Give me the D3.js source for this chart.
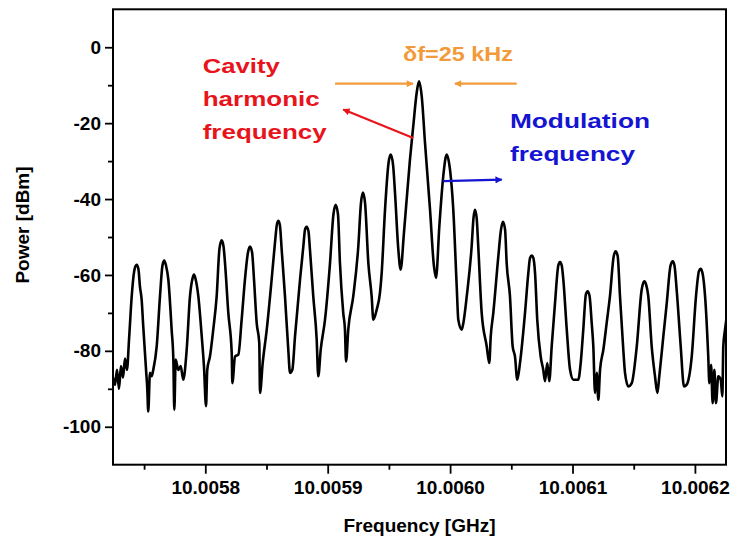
<!DOCTYPE html>
<html><head><meta charset="utf-8">
<script src="https://cdn.jsdelivr.net/npm/d3@7"></script>
<style>
html,body{margin:0;padding:0;background:#fff;}
text{font-family:"Liberation Sans",Arial,sans-serif;font-weight:bold;}
</style></head>
<body><svg id="chart" width="733" height="545"></svg>
<script>
// ---- data ----
const baseGHz = 10.0058;            // trace frequencies are kHz offsets from this
const xDomainGHz = [10.0057246, 10.0062254];
const yDomain = [-110, 10];
const xMajorTicks = [10.0058, 10.0059, 10.0060, 10.0061, 10.0062];
const xMinorTicks = [10.00575, 10.00585, 10.00595, 10.00605, 10.00615];
const yMajorTicks = [-100, -80, -60, -40, -20, 0];
const yMinorTicks = [-90, -70, -50, -30, -10];
const xTitle = "Frequency [GHz]";
const yTitle = "Power [dBm]";
// [offset kHz, power dBm]
const trace = [
[-75.4,-87],[-73.8,-89],[-72.1,-85],[-70.5,-90],[-68.9,-84],[-67.2,-87],[-65.6,-82],[-64.0,-85],[-62.3,-77],
[-60.1,-65.6],[-58.7,-60.5],[-57.4,-58],[-56.0,-57.3],[-54.6,-58.5],[-53.4,-63],[-52.0,-66.5],[-50.7,-73.5],
[-48.4,-85],[-47.4,-90],[-46.6,-96],[-45.2,-85.8],[-43.8,-86.7],[-42.5,-85],[-39.7,-78.8],[-37.0,-65.6],
[-35.0,-57.5],[-33.5,-56.2],[-32.1,-57.5],[-30.2,-61.2],[-27.5,-74.4],[-26.1,-82.3],[-25.3,-95.5],[-24.2,-82.3],
[-22.1,-85],[-20.1,-84],[-18.0,-87.6],[-15.2,-79.7],[-12.5,-65.6],[-10.5,-61],[-9.2,-59.9],[-8.0,-61],
[-5.7,-65.6],[-2.9,-76.2],[-1.1,-84],[0.6,-94.6],[1.6,-85],[3.8,-81.5],[6.5,-74.4],[9.3,-65.6],
[11.6,-53],[13.4,-50.9],[14.9,-52.5],[16.1,-56.8],[18.8,-70],[21.6,-80.6],[22.1,-88.5],[24.3,-81.5],
[27.0,-81],[29.7,-71.8],[32.4,-61.2],[34.9,-54],[36.5,-52.5],[38.2,-54],[39.8,-61.2],[42.0,-72.7],
[44.1,-77.9],[44.7,-91.1],[46.9,-83.2],[50.2,-74.4],[54.2,-61.2],[56.9,-51.6],[58.6,-46.5],[59.8,-45.7],
[61.0,-47],[62.4,-53.3],[65.1,-65.6],[67.8,-79.7],[69.2,-85.8],[71.1,-85],[73.3,-76.2],[77.4,-61.2],
[80.1,-52.5],[81.5,-48],[82.8,-47.3],[84.3,-48.5],[85.5,-53.3],[88.2,-65.6],[91.0,-77],[92.3,-86.7],
[94.3,-79.7],[97.8,-71.8],[101.9,-56.8],[104.7,-44],[106.5,-41.5],[108.4,-44],[110.0,-56.8],[112.7,-70],
[114.1,-74.4],[115.0,-82.8],[116.8,-74.4],[120.9,-65.6],[125.0,-52.5],[127.2,-41],[128.8,-38.3],[130.5,-41],
[133.2,-56.8],[135.9,-65.6],[137.3,-71.8],[140.0,-69.2],[142.7,-64.7],[144.1,-59.5],[146.8,-43],[149.7,-30.5],
[151.5,-28.3],[153.4,-31],[155.0,-38.4],[157.7,-53.3],[159.6,-58.6],[162.3,-48.9],[167.2,-29.6],[169.9,-20.8],
[172.7,-12],[174.6,-9],[176.8,-12.9],[179.5,-25.2],[183.6,-42.8],[186.8,-57.7],[188.5,-60.8],[191.2,-47.2],
[194.4,-34],[197.2,-28.3],[199.9,-32.2],[202.6,-42.8],[205.4,-63],[206.7,-71.8],[209.5,-74.4],[210.8,-72.7],
[213.6,-65.6],[217.6,-52.5],[219.1,-45],[220.3,-42.8],[221.7,-45],[223.0,-52.5],[225.8,-70],[229.9,-78.8],
[232.0,-83.2],[233.2,-76.2],[235.3,-70],[239.4,-55.1],[241.6,-48],[243.2,-46],[244.9,-48],[246.2,-56.8],
[248.9,-65.6],[251.1,-78.8],[253.0,-81.5],[254.9,-87.6],[257.1,-83.2],[261.2,-70],[263.9,-59.5],[265.3,-55.5],
[266.7,-54.9],[268.0,-55.5],[269.4,-59.5],[271.2,-71.8],[274.0,-81.5],[276.1,-85],[277.5,-88],[279.4,-83.2],
[281.0,-88],[283.0,-78.8],[285.7,-67.4],[288.4,-57.5],[289.8,-56.6],[291.2,-57.5],[292.5,-61.2],[295.3,-74.4],
[298.0,-85],[300.7,-87.6],[304.7,-87.6],[306.7,-83.2],[308.8,-74.4],[311.0,-65],[312.4,-64.3],[313.9,-65.5],
[315.7,-72.7],[317.0,-78.8],[318.4,-91.1],[319.8,-85.8],[321.1,-92.9],[322.5,-85],[325.2,-79.7],[327.9,-72.7],
[330.6,-65.6],[333.7,-55],[335.3,-53.8],[336.9,-55],[338.8,-65.6],[341.5,-79.7],[342.9,-85.8],[345.6,-89.4],
[348.4,-88.5],[352.5,-78.8],[356.5,-63.9],[358.7,-61.7],[360.1,-62.5],[361.9,-65.6],[364.7,-78.8],[367.4,-86.7],
[369.3,-91.1],[370.9,-86.7],[374.2,-76.2],[377.0,-67.4],[380.1,-57.5],[381.9,-56.4],[383.3,-57.5],[385.1,-63.9],
[388.4,-78.8],[391.1,-89.4],[393.3,-88.9],[397.4,-81.5],[400.9,-65.6],[403.3,-59],[404.7,-58.4],[406.2,-59.5],
[408.3,-65.6],[410.9,-81.5],[411.8,-88.5],[413.2,-83.7],[414.5,-93.8],[415.9,-85],[417.2,-93.8],[419.1,-86.7],
[421.1,-87.6],[422.4,-92],[423.2,-78.8],[424.6,-74.4],[426.5,-70]
];
// annotations in data space: kHz offset from baseGHz, dBm
const labels = [
  {text:"δf=25 kHz", k:161.5, db:-3.5, color:"#f39a3a", len:110},
  {text:"Cavity", k:-2.1, db:-6.7, color:"#e8141c", len:77},
  {text:"harmonic", k:-2.1, db:-15.4, color:"#e8141c", len:117},
  {text:"frequency", k:-2.1, db:-24.1, color:"#e8141c", len:124},
  {text:"Modulation", k:248.9, db:-21.4, color:"#1414d2", len:140},
  {text:"frequency", k:248.9, db:-29.9, color:"#1414d2", len:125}
];
const arrows = [
  {k0:106.0, d0:-9.6, k1:169.7, d1:-9.6, color:"#f39a3a"},
  {k0:254.4, d0:-9.6, k1:203.9, d1:-9.6, color:"#f39a3a"},
  {k0:169.9, d0:-23.9, k1:112.7, d1:-16.4, color:"#e8141c"},
  {k0:194.4, d0:-35.3, k1:242.2, d1:-34.9, color:"#1414d2"}
];

// ---- drawing ----
const W = 733, H = 545;
const m = {left:113, right:7, top:9.3, bottom:80.3};
const svg = d3.select("#chart");
const x = d3.scaleLinear().domain(xDomainGHz).range([m.left, W - m.right]);
const y = d3.scaleLinear().domain(yDomain).range([H - m.bottom, m.top]);
const fx = k => x(baseGHz + k * 1e-6);

svg.append("rect").attr("width", W).attr("height", H).attr("fill", "#fff");

const defs = svg.append("defs");
defs.append("clipPath").attr("id", "clip").append("rect")
  .attr("x", m.left).attr("y", m.top)
  .attr("width", W - m.left - m.right).attr("height", H - m.top - m.bottom);

const colors = [...new Set(arrows.map(a => a.color))];
colors.forEach((c, i) => {
  defs.append("marker").attr("id", "ah" + i)
    .attr("viewBox", "0 0 10 10").attr("refX", 9).attr("refY", 5)
    .attr("markerWidth", 9).attr("markerHeight", 7).attr("markerUnits", "userSpaceOnUse")
    .attr("orient", "auto")
    .append("path").attr("d", "M0,0 L10,5 L0,10 Z").attr("fill", c);
});

// trace
const line = d3.line()
  .x(d => fx(d[0])).y(d => y(d[1]))
  .curve(d3.curveMonotoneX);
svg.append("path").datum(trace)
  .attr("clip-path", "url(#clip)")
  .attr("d", line).attr("fill", "none")
  .attr("stroke", "#000").attr("stroke-width", 2.6)
  .attr("stroke-linejoin", "round");

// axes
svg.append("g").attr("transform", `translate(0,${H - m.bottom})`)
  .call(d3.axisBottom(x).tickValues(xMajorTicks).tickFormat(d => d.toFixed(4)).tickSizeOuter(0).tickSize(9).tickPadding(7));
svg.append("g").attr("transform", `translate(0,${H - m.bottom})`)
  .call(d3.axisBottom(x).tickValues(xMinorTicks).tickFormat("").tickSizeOuter(0).tickSize(5));
svg.append("g").attr("transform", `translate(${m.left},0)`)
  .call(d3.axisLeft(y).tickValues(yMajorTicks).tickFormat(d => String(d)).tickSizeOuter(0).tickSize(8).tickPadding(4));
svg.append("g").attr("transform", `translate(${m.left},0)`)
  .call(d3.axisLeft(y).tickValues(yMinorTicks).tickFormat("").tickSizeOuter(0).tickSize(5));

svg.selectAll(".domain").remove();
svg.selectAll(".tick line").attr("stroke", "#000").attr("stroke-width", 1.8);
svg.selectAll(".tick text").attr("fill", "#000").style("font-size", "19px")
  .style("font-family", "'Liberation Sans', Arial, sans-serif").style("font-weight", "bold");

// frame
svg.append("rect").attr("x", m.left).attr("y", m.top)
  .attr("width", W - m.left - m.right).attr("height", H - m.top - m.bottom)
  .attr("fill", "none").attr("stroke", "#000").attr("stroke-width", 2);

// titles
svg.append("text").attr("x", (m.left + W - m.right) / 2).attr("y", 532)
  .attr("text-anchor", "middle").style("font-size", "19px").text(xTitle);
svg.append("text").attr("transform", "translate(29,225) rotate(-90)")
  .attr("text-anchor", "middle").style("font-size", "19px").text(yTitle);

// annotations
svg.append("g").selectAll("text").data(labels).join("text")
  .attr("x", d => fx(d.k)).attr("y", d => y(d.db))
  .attr("fill", d => d.color).style("font-size", "20px")
  .attr("textLength", d => d.len).attr("lengthAdjust", "spacingAndGlyphs")
  .text(d => d.text);

svg.append("g").selectAll("line").data(arrows).join("line")
  .attr("x1", d => fx(d.k0)).attr("y1", d => y(d.d0))
  .attr("x2", d => fx(d.k1)).attr("y2", d => y(d.d1))
  .attr("stroke", d => d.color).attr("stroke-width", 2.2)
  .attr("marker-end", d => `url(#ah${colors.indexOf(d.color)})`);
</script>
</body></html>
